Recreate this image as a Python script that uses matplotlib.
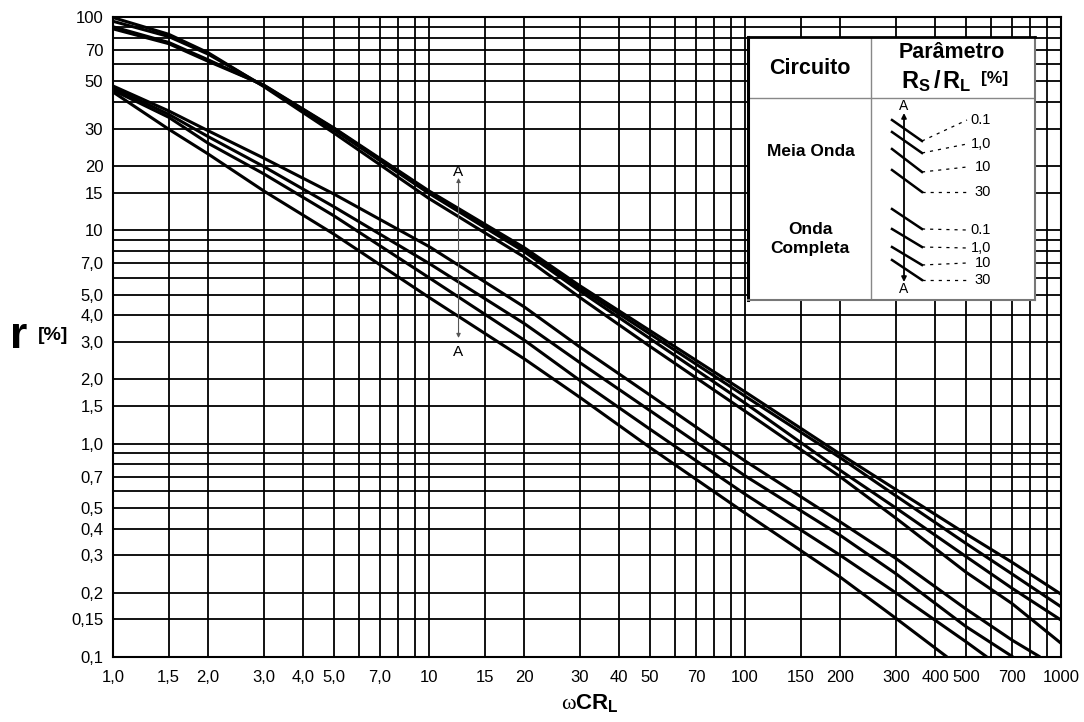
import matplotlib
matplotlib.use("Agg")
import matplotlib.pyplot as plt
from matplotlib import font_manager
from matplotlib.ticker import FixedLocator, NullFormatter

# ===================== fontes =====================
available = {f.name for f in font_manager.fontManager.ttflist}
NARROW = 'Liberation Sans Narrow' if 'Liberation Sans Narrow' in available else 'Liberation Sans'
plt.rcParams['font.family'] = [NARROW, 'DejaVu Sans']
plt.rcParams['mathtext.fontset'] = 'custom'
plt.rcParams['mathtext.bf'] = 'Liberation Sans:bold'
plt.rcParams['mathtext.rm'] = 'Liberation Sans'
plt.rcParams['mathtext.it'] = 'Liberation Serif'

# ===================== dados =====================
# Meia onda, Rs/RL = 0.1, 1.0, 10, 30 %
x_meia = [1, 1.5, 2, 3, 5, 10, 20, 30, 50, 100, 200, 300, 500, 700, 1000]
r_meia_01 = [88, 75, 62, 48, 30.2, 15.3, 8.3, 5.5, 3.39, 1.75, 0.894, 0.61, 0.378, 0.278, 0.197]
r_meia_1 = [90, 76, 63, 47.8, 30.0, 15.1, 8.15, 5.35, 3.27, 1.67, 0.86, 0.57, 0.341, 0.245, 0.172]
r_meia_10 = [95.5, 81, 67, 47.5, 29.6, 14.9, 7.95, 5.2, 3.11, 1.55, 0.75, 0.50, 0.296, 0.21, 0.149]
r_meia_30 = [99.4, 83, 68, 47.2, 28.6, 14.1, 7.5, 4.85, 2.86, 1.42, 0.70, 0.448, 0.25, 0.178, 0.116]

# Onda completa, Rs/RL = 0.1, 1.0, 10, 30 %
x_comp_01 = [1, 1.5, 2, 3, 5, 10, 20, 30, 50, 100, 200, 300, 500, 700, 859]
r_comp_01 = [47.5, 36.3, 29.3, 21.8, 14.8, 8.4, 4.38, 2.84, 1.69, 0.83, 0.43, 0.29, 0.168, 0.12, 0.1]
x_comp_1 = [1, 1.5, 2, 3, 5, 10, 20, 30, 50, 100, 200, 300, 500, 705]
r_comp_1 = [46.5, 35.0, 27.5, 19.9, 12.9, 7.0, 3.66, 2.4, 1.43, 0.707, 0.372, 0.246, 0.139, 0.1]
x_comp_10 = [1, 1.5, 2, 3, 5, 10, 20, 30, 50, 100, 200, 300, 500, 583]
r_comp_10 = [45.4, 33.9, 25.6, 18.4, 11.7, 6.0, 3.06, 1.98, 1.17, 0.58, 0.30, 0.20, 0.118, 0.1]
x_comp_30 = [1, 1.5, 2, 3, 5, 10, 20, 30, 50, 100, 200, 300, 436]
r_comp_30 = [44.5, 29.8, 22.8, 15.3, 9.6, 4.85, 2.5, 1.65, 0.96, 0.473, 0.237, 0.152, 0.1]

# seta A-A no gráfico
seta_x = 12.4
seta_y = [17.6, 3.13]
seta_rotulo_y = [18.8, 2.70]

# eixos
x_ticks = [1, 1.5, 2, 3, 4, 5, 7, 10, 15, 20, 30, 40, 50, 70, 100, 150, 200, 300, 400, 500, 700, 1000]
x_tick_labels = ['1,0', '1,5', '2,0', '3,0', '4,0', '5,0', '7,0', '10', '15', '20', '30', '40', '50',
                 '70', '100', '150', '200', '300', '400', '500', '700', '1000']
y_ticks = [0.1, 0.15, 0.2, 0.3, 0.4, 0.5, 0.7, 1, 1.5, 2, 3, 4, 5, 7, 10, 15, 20, 30, 50, 70, 100]
y_tick_labels = ['0,1', '0,15', '0,2', '0,3', '0,4', '0,5', '0,7', '1,0', '1,5', '2,0', '3,0', '4,0',
                 '5,0', '7,0', '10', '15', '20', '30', '50', '70', '100']
grid_mant = [1, 1.5, 2, 3, 4, 5, 6, 7, 8, 9]
grid_x = [m * 10 ** d for d in range(0, 3) for m in grid_mant] + [1000]
grid_y = [m * 10.0 ** d for d in range(-1, 2) for m in grid_mant] + [100]

# legenda
leg_rotulos = ['0.1', '1,0', '10', '30']

# ===================== figura =====================
W, H = 1084, 722
fig = plt.figure(figsize=(W / 100, H / 100), dpi=100)
ax = fig.add_axes([113 / W, 65 / H, 948 / W, 640 / H])

ax.set_xscale('log')
ax.set_yscale('log')
ax.set_xlim(1, 1000)
ax.set_ylim(0.1, 100)

curvas = [(x_meia, r_meia_01), (x_meia, r_meia_1), (x_meia, r_meia_10), (x_meia, r_meia_30),
          (x_comp_01, r_comp_01), (x_comp_1, r_comp_1), (x_comp_10, r_comp_10), (x_comp_30, r_comp_30)]
for xs, ys in curvas:
    ax.plot(xs, ys, color='black', lw=2.2, solid_capstyle='butt', zorder=3)

ax.xaxis.set_minor_locator(FixedLocator(grid_x))
ax.yaxis.set_minor_locator(FixedLocator(grid_y))
ax.xaxis.set_minor_formatter(NullFormatter())
ax.yaxis.set_minor_formatter(NullFormatter())
ax.set_xticks(x_ticks, x_tick_labels)
ax.set_yticks(y_ticks, y_tick_labels)
ax.tick_params(which='both', length=0)
ax.tick_params(axis='x', pad=9, labelsize=12)
ax.tick_params(axis='y', pad=7, labelsize=12)
ax.grid(which='both', color='black', lw=1.3)
ax.set_axisbelow(True)
for s in ax.spines.values():
    s.set_linewidth(1.5)

# seta A-A
ax.annotate('', xy=(seta_x, seta_y[0]), xytext=(seta_x, seta_y[1]),
            arrowprops=dict(arrowstyle='<|-|>', color='#555555', lw=0.8,
                            mutation_scale=6, shrinkA=0, shrinkB=0), zorder=4)
ax.text(seta_x, seta_rotulo_y[0], 'A', ha='center', va='center', fontsize=11, zorder=4)
ax.text(seta_x, seta_rotulo_y[1], 'A', ha='center', va='center', fontsize=11, zorder=4)

# rótulos dos eixos
fig.text(19 / W, 1 - 336 / H, 'r', fontsize=32, fontweight='bold', family='Liberation Sans',
         ha='center', va='center')
fig.text(53 / W, 1 - 335 / H, '[%]', fontsize=14, fontweight='bold', family='Liberation Sans',
         ha='center', va='center')
fig.text(590 / W, 1 - 704 / H, r'$\omega\mathbf{CR_L}$', fontsize=16, ha='center', va='center')

# ===================== caixa da legenda =====================
bw, bh = 287, 263
leg = fig.add_axes([748 / W, 1 - (37 + bh) / H, bw / W, bh / H], zorder=5)
leg.set_xlim(0, bw)
leg.set_ylim(bh, 0)
leg.set_xticks([])
leg.set_yticks([])
leg.set_facecolor('white')
leg.spines['left'].set_linewidth(2.2)
leg.spines['top'].set_linewidth(2.0)
leg.spines['right'].set_color('#777777')
leg.spines['bottom'].set_color('#777777')
leg.spines['right'].set_linewidth(1.5)
leg.spines['bottom'].set_linewidth(1.5)

leg.plot([123, 123], [0, bh], color='#888888', lw=1)
leg.plot([0, bw], [60.5, 60.5], color='#888888', lw=1)

bold = dict(fontweight='bold', family='Liberation Sans', ha='center', va='center')
leg.text(62, 32, 'Circuito', fontsize=15.5, **bold)
leg.text(204, 16, 'Parâmetro', fontsize=15.5, **bold)
leg.text(188, 44, r'$\mathbf{R_S\,/\,R_L}$', fontsize=17, ha='center', va='center')
leg.text(247, 42, '[%]', fontsize=12.5, **bold)
leg.text(63, 114, 'Meia Onda', fontsize=12.5, **bold)
leg.text(62, 192, 'Onda', fontsize=12.5, **bold)
leg.text(62, 211, 'Completa', fontsize=12.5, **bold)

seg_y0 = [83, 95, 112, 133, 172, 192, 210, 223]
seg_y1 = [104, 116, 135, 155, 192, 210, 228, 243]
rot_y = [83, 107, 130, 155, 193, 211, 226, 243]
for i in range(8):
    leg.plot([144, 174], [seg_y0[i], seg_y1[i]], color='black', lw=1.8)
    leg.plot([174, 219], [seg_y1[i], rot_y[i]], color='black', lw=0.9, ls=(0, (2.5, 4)))
    leg.text(243, rot_y[i], leg_rotulos[i % 4], fontsize=10.5, ha='right', va='center')

leg.annotate('', xy=(156, 76), xytext=(156, 245),
             arrowprops=dict(arrowstyle='<|-|>', color='black', lw=1.3,
                             mutation_scale=7, shrinkA=0, shrinkB=0))
leg.text(156, 69, 'A', fontsize=10, ha='center', va='center')
leg.text(156, 252, 'A', fontsize=10, ha='center', va='center')

fig.savefig('out.png', dpi=100)
